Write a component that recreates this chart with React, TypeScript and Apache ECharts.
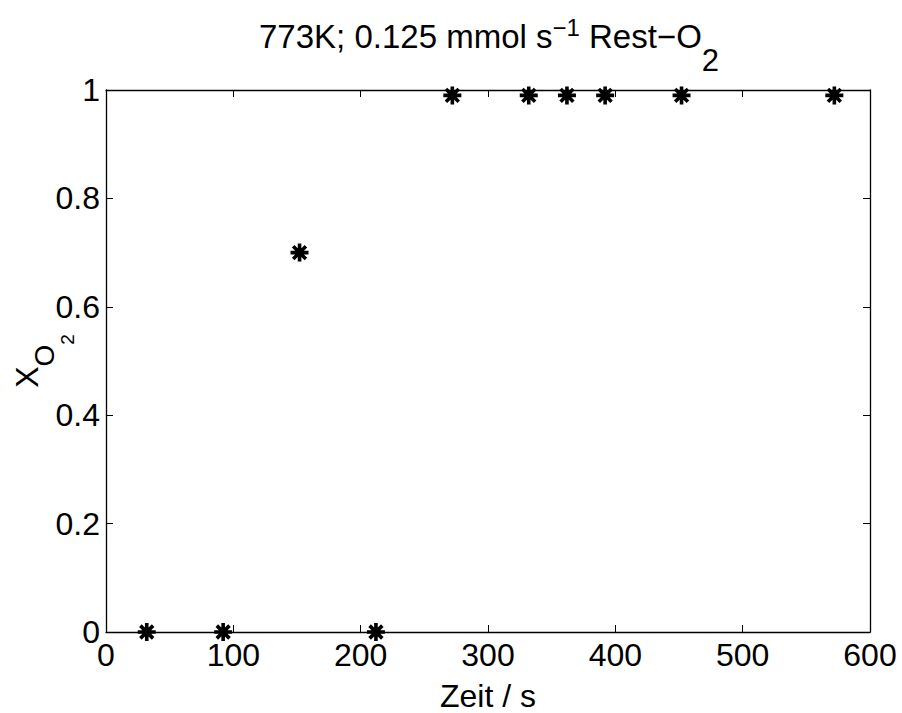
import React, { useEffect, useRef } from "react";
import * as echarts from "echarts";

const timeSeconds = [32, 92, 152, 212, 272, 332, 362, 392, 452, 572];
const conversionO2 = [0, 0, 0.7, 0, 0.99, 0.99, 0.99, 0.99, 0.99, 0.99];
const xTicks = { min: 0, max: 600, interval: 100 };
const yTicks = { min: 0, max: 1, interval: 0.2 };

const FONT = "'Liberation Sans', Arial, Helvetica, sans-serif";

const ASTERISK =
  "path://M8,0 L12,0 L12,20 L8,20 Z " +
  "M0,8 L20,8 L20,12 L0,12 Z " +
  "M15.66,1.51 L18.49,4.34 L4.34,18.49 L1.51,15.66 Z " +
  "M18.49,15.66 L15.66,18.49 L1.51,4.34 L4.34,1.51 Z";

export default function App() {
  const ref = useRef<HTMLDivElement>(null);
  useEffect(() => {
    if (!ref.current) return;
    const chart = echarts.init(ref.current, undefined, { renderer: "svg" });
    const axisLine = { show: true, onZero: false, lineStyle: { color: "#000", width: 1.3 } };
    const tick = { show: true, inside: true, length: 7, lineStyle: { color: "#000", width: 1 } };
    chart.setOption({
      animation: false,
      backgroundColor: "#fff",
      title: {
        text: "773K; 0.125 mmol s{sup|−1} Rest−O{sub|2}",
        left: 254,
        top: 15,
        textStyle: {
          fontFamily: FONT,
          fontSize: 33,
          fontWeight: "normal",
          color: "#000",
          lineHeight: 33,
          rich: {
            sup: { fontFamily: FONT, fontSize: 24, lineHeight: 24, color: "#000", padding: [0, 0, 18, 0] },
            sub: { fontFamily: FONT, fontSize: 31, lineHeight: 31, color: "#000", padding: [48, 0, 0, 0] },
          },
        },
      },
      grid: { left: 106, right: 32, top: 90, bottom: 81, containLabel: false, outerBoundsMode: "none" },
      xAxis: [
        {
          type: "value",
          position: "bottom",
          min: xTicks.min,
          max: xTicks.max,
          interval: xTicks.interval,
          name: "Zeit / s",
          nameLocation: "middle",
          nameGap: 48,
          nameTextStyle: { fontFamily: FONT, fontSize: 32, color: "#000" },
          axisLine,
          axisTick: tick,
          axisLabel: { fontFamily: FONT, fontSize: 32, color: "#000", margin: 7 },
          splitLine: { show: false },
        },
        {
          type: "value",
          position: "top",
          min: xTicks.min,
          max: xTicks.max,
          interval: xTicks.interval,
          axisLine,
          axisTick: tick,
          axisLabel: { show: false },
          splitLine: { show: false },
        },
      ],
      yAxis: [
        {
          type: "value",
          position: "left",
          min: yTicks.min,
          max: yTicks.max,
          interval: yTicks.interval,
          name: "X{o|O}{t|2}",
          nameLocation: "middle",
          nameRotate: 90,
          nameGap: 63,
          nameMoveOverlap: false,
          nameTextStyle: {
            fontFamily: FONT,
            fontSize: 32,
            lineHeight: 32,
            color: "#000",
            rich: {
              o: { fontFamily: FONT, fontSize: 28, lineHeight: 28, color: "#000", padding: [35, 0, 0, 0] },
              t: { fontFamily: FONT, fontSize: 19, lineHeight: 19, color: "#000", padding: [80, 0, 0, 0] },
            },
          },
          axisLine,
          axisTick: tick,
          axisLabel: { fontFamily: FONT, fontSize: 32, color: "#000", margin: 6 },
          splitLine: { show: false },
        },
        {
          type: "value",
          position: "right",
          min: yTicks.min,
          max: yTicks.max,
          interval: yTicks.interval,
          axisLine,
          axisTick: tick,
          axisLabel: { show: false },
          splitLine: { show: false },
        },
      ],
      series: [
        {
          type: "scatter",
          xAxisIndex: 0,
          yAxisIndex: 0,
          data: timeSeconds.map((t, i) => [t, conversionO2[i]]),
          symbol: ASTERISK,
          symbolSize: 18,
          itemStyle: { color: "#000", opacity: 1 },
          clip: false,
        },
      ],
    });
    return () => chart.dispose();
  }, []);
  return <div ref={ref} style={{ width: 902, height: 713, position: "absolute", left: 0, top: 0 }} />;
}
